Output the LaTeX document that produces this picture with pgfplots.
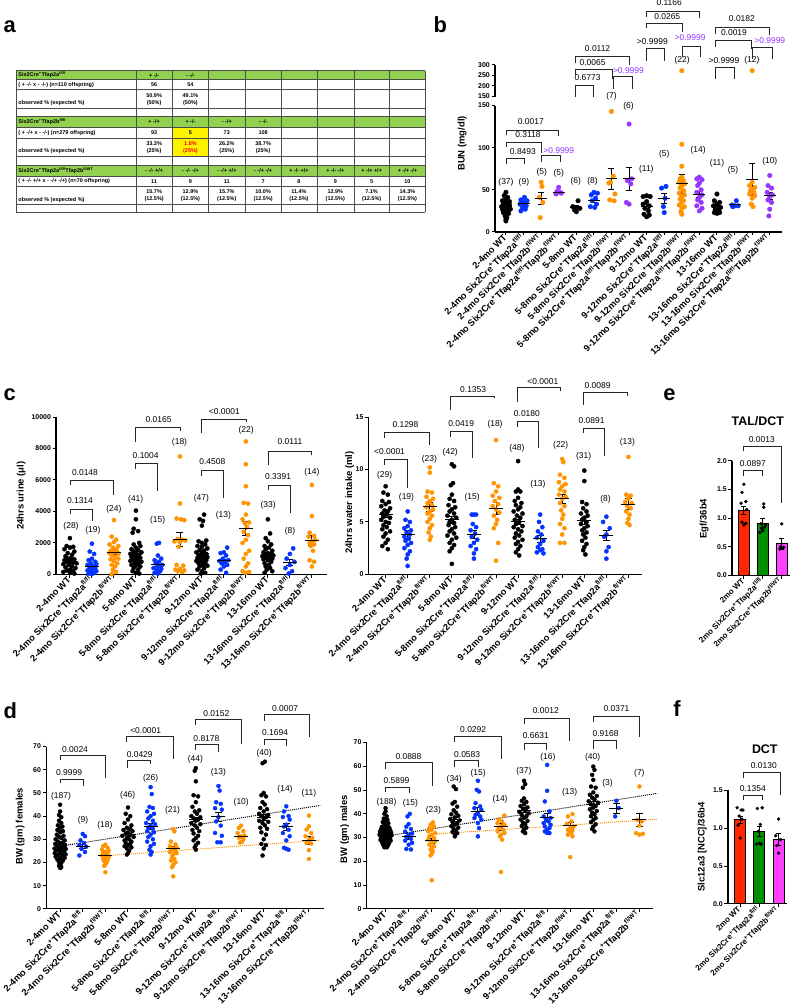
\documentclass[border=0pt]{standalone}
\usepackage{fontspec}
\setmainfont{Liberation Sans}
\usepackage{pgfplots}
\pgfplotsset{compat=1.18}

\definecolor{gpblue}{HTML}{0433FF}
\definecolor{gporange}{HTML}{FF9300}
\definecolor{gppurple}{HTML}{9437FF}
\definecolor{tgreen}{HTML}{92D050}
\definecolor{bred}{HTML}{FF2600}
\definecolor{bgreen}{HTML}{008F00}
\definecolor{bmag}{HTML}{FF40FF}

\newcommand{\Ga}{Six2Cre\textsuperscript{+}Tfap2a\textsuperscript{fl/fl}}
\newcommand{\Gb}{Six2Cre\textsuperscript{+}Tfap2b\textsuperscript{fl/WT}}
\newcommand{\Gab}{Six2Cre\textsuperscript{+}Tfap2a\textsuperscript{fl/fl}Tfap2b\textsuperscript{fl/WT}}
\newcommand{\pv}{\fontsize{8.5}{9}\selectfont}
% bracket: [text colour]{x1}{x2}{ytop}{yleft}{yright}{label x}{label y}{label}
\newcommand{\brk}[9][black]{%
  \draw[line width=0.8pt, black!85] (#2,#5) -- (#2,#4) -- (#3,#4) -- (#3,#6);
  \node[text=#1, font=\pv, inner sep=0pt] at (#7,#8) {#9};}

\pgfplotsset{
  gp/.style={scale only axis, anchor=south west, clip=false,
    axis x line*=bottom, axis y line*=left,
    axis line style={-, line width=1.2pt},
    tick style={black, line width=1pt},
    major tick length=3.5pt, tick align=outside,
    /pgf/number format/assume math mode=true,
    /pgf/number format/1000 sep={},
    scaled y ticks=false,
    yticklabel style={font=\bfseries\fontsize{7}{8}\selectfont, inner sep=1.5pt},
    xticklabel style={font=\bfseries\fontsize{9.3}{10}\selectfont, rotate=45, anchor=east, inner sep=1pt},
  },
  pts/.style={only marks, mark=*, mark size=2.1pt, color=#1},
  msem/.style 2 args={only marks, black, mark=-, mark size=#1, mark options={line width=1pt},
    error bars/.cd, y dir=both, y explicit,
    error bar style={line width=0.8pt, black},
    error mark options={rotate=90, mark size=#2, line width=0.8pt, black}},
}

\begin{document}
\begin{tikzpicture}[x=1pt,y=-1pt]
\path (0,0) rectangle (794,1007);

% ---------------- panel labels
\begin{scope}[font=\bfseries\fontsize{22}{24}\selectfont]
\node[anchor=base west, inner sep=0pt] at (0,33) {a};
\node[anchor=base west, inner sep=0pt] at (432,33) {b};
\node[anchor=base west, inner sep=0pt] at (0,402) {c};
\node[anchor=base west, inner sep=0pt] at (0,722) {d};
\node[anchor=base west, inner sep=0pt] at (663,402) {e};
\node[anchor=base west, inner sep=0pt] at (673,720) {f};
\end{scope}

% ---------------- a: breeding table
\fill[tgreen] (13,71) rectangle (424,80);
\fill[tgreen] (13,117) rectangle (424,128);
\fill[tgreen] (13,166) rectangle (424,177);
\fill[yellow] (170,128) rectangle (206,157);
\foreach \y in {71,80,90,109,117,128,139,157,166,177,187,205,213}
  \draw[line width=0.4pt, black!70] (13,\y) -- (424,\y);
\foreach \x in {13,133,170,206,243,279,315,352,388,424}
  \draw[line width=0.4pt, black!70] (\x,71) -- (\x,213);
\begin{scope}[font=\bfseries\fontsize{5.5}{6}\selectfont, every node/.style={inner sep=0pt}]
\node[anchor=west] at (15,75.5) {Six2Cre\textsuperscript{+}Tfap2a\textsuperscript{fl/fl}};
\node at (151.5,75.5) {+ -/-}; \node at (188,75.5) {- -/-};
\node[anchor=west] at (15,85) {( + -/- x - -/-) (n=110 offspring)};
\node at (151.5,85) {56}; \node at (188,85) {54};
\node[anchor=west] at (15,104) {observed \% (expected \%)};
\node at (151.5,96) {50.9\%}; \node at (151.5,104) {(50\%)};
\node at (188,96) {49.1\%}; \node at (188,104) {(50\%)};
\node[anchor=west] at (15,122.5) {Six2Cre\textsuperscript{+}Tfap2b\textsuperscript{fl/fl}};
\node at (151.5,122.5) {+ -/+}; \node at (188,122.5) {+ -/-};
\node at (224.5,122.5) {- -/+}; \node at (261,122.5) {- -/-};
\node[anchor=west] at (15,133.5) {( + -/+ x - -/-) (n=279 offspring)};
\foreach \x/\t in {151.5/93, 188/5, 224.5/73, 261/108} \node at (\x,133.5) {\t};
\node[anchor=west] at (15,152) {observed \% (expected \%)};
\node at (151.5,144) {33.3\%}; \node[text=red] at (188,144) {1.8\%};
\node at (224.5,144) {26.2\%}; \node at (261,144) {38.7\%};
\node at (151.5,152) {(25\%)}; \node[text=red] at (188,152) {(25\%)};
\node at (224.5,152) {(25\%)}; \node at (261,152) {(25\%)};
\node[anchor=west] at (15,171.5) {Six2Cre\textsuperscript{+}Tfap2a\textsuperscript{fl/fl}Tfap2b\textsuperscript{fl/WT}};
\node at (151.5,171.5) {- -/- +/+}; \node at (188,171.5) {- -/- -/+};
\node at (224.5,171.5) {- -/+ +/+}; \node at (261,171.5) {- -/+ -/+};
\node at (297,171.5) {+ -/- +/+}; \node at (333.5,171.5) {+ -/- -/+};
\node at (370,171.5) {+ -/+ +/+}; \node at (406,171.5) {+ -/+ -/+};
\node[anchor=west] at (15,182) {( + -/- +/+ x - -/+ -/+) (n=70 offspring)};
\foreach \x/\t in {151.5/11, 188/9, 224.5/11, 261/7, 297/8, 333.5/9, 370/5, 406/10}
  \node at (\x,182) {\t};
\node[anchor=west] at (15,201) {observed \% (expected \%)};
\foreach \x/\t in {151.5/15.7, 188/12.9, 224.5/15.7, 261/10.0, 297/11.4, 333.5/12.9, 370/7.1, 406/14.3}
  {\node at (\x,192) {\t\%}; \node at (\x,200) {(12.5\%)};}
\end{scope}

% ---------------- b: BUN (broken axis)
\begin{axis}[gp, at={(494pt,-233pt)}, width=288pt, height=127pt,
  xmin=0.38, xmax=16.68, ymin=0, ymax=150, ytick={0,50,100,150},
  xtick={1,...,16},
  xticklabels={2-4mo WT, 2-4mo \Ga, 2-4mo \Gb, 2-4mo \Gab,
    5-8mo WT, 5-8mo \Ga, 5-8mo \Gb, 5-8mo \Gab,
    9-12mo WT, 9-12mo \Ga, 9-12mo \Gb, 9-12mo \Gab,
    13-16mo WT, 13-16mo \Ga, 13-16mo \Gb, 13-16mo \Gab}]
\addplot[pts=black, mark size=2.3pt] coordinates {
 (1,47)(0.9,43)(1.1,41)(1,39)(0.8,37)(1.2,36)(0.95,35)(1.1,34)(0.85,33)(1.2,32)(1,31)(0.75,30)(1.15,30)(0.9,29)(1.05,28)(0.8,27)(1.25,27)(1,26)(0.9,25)(1.1,24)(0.85,23)(1.15,22)(1,21)(0.95,19)(1.05,17)(1,15)(1,13)
 (5.1,37)(4.8,30)(5,29)(5.2,28)(4.9,26)(5,24)
 (9,43)(8.8,42)(9.2,42)(9,36)(8.8,33)(9.15,31)(8.9,28)(9.1,25)(8.85,21)(9.15,20)(9,18)
 (13,45)(12.85,37)(13.15,35)(13,33)(12.8,31)(13.2,29)(12.9,27)(13.1,25)(12.85,23)(13.15,23)(13,22)};
\addplot[pts=gpblue, mark size=2.3pt] coordinates {
 (2.05,41)(1.85,38)(2.2,37)(2,35)(1.8,33)(2.15,31)(1.95,29)(2.1,27)(1.85,25)
 (6,47)(6.2,46)(5.85,44)(6.1,40)(5.9,37)(6.15,33)(5.8,30)(6.05,29)
 (10.1,54)(9.85,52)(10.05,40)(9.95,30)(10,23)
 (14.1,37)(13.85,32)(14.2,31)(14,31)(13.9,30)};
\addplot[pts=gporange, mark size=2.3pt] coordinates {
 (3,59)(3.05,54)(2.9,41)(3.1,35)(2.95,17)
 (7,143)(7.1,66)(6.95,59)(6.85,58)(7.2,45)(6.9,38)(7.15,37)
 (11,104)(11,78)(11,65)(10.9,63)(11.1,61)(10.85,59)(11.15,57)(11,55)(10.9,52)(11.1,49)(10.85,46)(11.15,44)(11,42)(10.9,39)(11.1,37)(11,35)(10.85,32)(11.15,30)(11,28)(10.95,24)(11,21)
 (15,59)(14.85,55)(15.15,53)(15,50)(14.9,49)(15.1,47)(14.85,45)(15.15,43)(15,40)(14.95,33)(15.05,30)};
\addplot[pts=gppurple, mark size=2.3pt] coordinates {
 (4,53)(3.9,48)(4.1,47)(4.15,46)(3.85,45)
 (8,128)(8.15,63)(7.9,61)(8.1,57)(7.85,35)(8,33)
 (12,65)(11.85,63)(12.15,62)(12,58)(11.9,55)(12.1,50)(11.85,47)(12.15,44)(12,41)(11.9,38)(12.1,35)(11.85,31)(12.15,28)(12,25)
 (16,67)(15.9,55)(16.1,52)(15.85,47)(16.15,44)(16,42)(15.9,38)(16.1,35)(16,27)(15.95,19)};
\addplot[msem={6pt}{3pt}] coordinates {
 (1,30)+-(0,1.3) (2,34)+-(0,2) (3,40)+-(0,7) (4,47)+-(0,1.5)
 (5,29)+-(0,2) (6,37)+-(0,2) (7,63)+-(0,12) (8,63)+-(0,14)
 (9,30)+-(0,2.5) (10,40)+-(0,6) (11,57)+-(0,11) (12,45)+-(0,3.5)
 (13,30)+-(0,2) (14,32)+-(0,1.2) (15,62)+-(0,19) (16,43)+-(0,4.5)};
\end{axis}
\begin{axis}[gp, at={(494pt,-97pt)}, width=288pt, height=32pt,
  xmin=0.38, xmax=16.68, ymin=150, ymax=300, ytick={150,200,250,300},
  axis x line=none, xtick=\empty]
\addplot[pts=gporange, mark size=2.3pt] coordinates {(11,272)(15,272)};
\end{axis}
\node[rotate=90, font=\bfseries\fontsize{9.5}{10}\selectfont] at (461,144) {BUN (mg/dl)};
\begin{scope}[font=\pv]
\foreach \x/\y/\t in {505/183/(37), 523/183/(9), 541/173/(5), 558/174/(5), 575/182/(6), 592/182/(8),
  611/97/(7), 628/107/(6), 646/170/(11), 664/155/(5), 682/61/(22), 698/151/(14),
  717/164/(11), 733/171/(5), 752/61/(12), 770/162/(10)}
  \node at (\x,\y) {\t};
\end{scope}
\brk{505}{523}{159}{165}{165}{522}{152}{0.8493}
\brk{505}{541}{143}{148}{154}{527}{135}{0.3118}
\brk{505}{558}{131}{136}{137}{530}{122}{0.0017}
\brk[gppurple]{541}{560}{156}{163}{163}{558}{151}{>0.9999}
\brk{575}{593}{86}{97}{97}{587}{78}{0.6773}
\brk{575}{612}{70}{75}{79}{592}{63}{0.0065}
\brk{575}{629}{57}{63}{65}{597}{49}{0.0112}
\brk[gppurple]{613}{632}{77}{89}{89}{628}{71}{>0.9999}
\brk{646}{664}{49}{61}{61}{652}{42}{>0.9999}
\brk{646}{682}{23}{28}{32}{667}{17}{0.0265}
\brk{646}{699}{11}{17}{18}{669}{3}{0.1166}
\brk[gppurple]{682}{700}{47}{57}{57}{690}{38}{>0.9999}
\brk{715}{734}{68}{79}{79}{724}{61}{>0.9999}
\brk{715}{752}{41}{47}{49}{734}{33}{0.0019}
\brk{715}{770}{28}{34}{35}{742}{19}{0.0182}
\brk[gppurple]{753}{773}{48}{59}{59}{770}{41}{>0.9999}

% ---------------- c left: urine
\begin{axis}[gp, at={(53pt,-577pt)}, width=272pt, height=158pt,
  xmin=0.37, xmax=12.68, ymin=0, ymax=10000, ytick={0,2000,...,10000},
  xtick={1,...,12},
  xticklabels={2-4mo WT, 2-4mo \Ga, 2-4mo \Gb, 5-8mo WT, 5-8mo \Ga, 5-8mo \Gb,
    9-12mo WT, 9-12mo \Ga, 9-12mo \Gb, 13-16mo WT, 13-16mo \Ga, 13-16mo \Gb}]
\addplot[pts=black] coordinates {
 (1,2300)(0.85,1800)(1.15,1750)(1,1700)(0.75,1600)(1.2,1450)(0.9,1350)(1.1,1250)(0.8,1150)(1.05,1050)(0.9,1000)(1.2,950)(0.75,900)(1,850)(0.85,800)(1.15,750)(1.3,700)(0.7,650)(0.95,600)(1.1,500)(0.8,450)(1.25,400)(1,300)(0.85,250)(1.15,200)(0.7,150)(1,100)(1.2,50)
 (4,4050)(4,3500)(3.9,2900)(4.1,2750)(3.85,2650)(4.15,2000)(3.9,1900)(4.2,1800)(4,1700)(3.8,1600)(4.1,1550)(3.9,1450)(4.25,1400)(4,1350)(3.75,1300)(4.15,1250)(3.9,1200)(4.05,1150)(3.8,1100)(4.2,1050)(4,1000)(3.85,950)(4.1,900)(3.75,850)(4.25,800)(3.95,750)(4.1,700)(3.8,600)(4,550)(4.2,500)(3.9,400)(4.1,300)(3.85,200)(4,100)(4.15,50)
 (7.1,3800)(6.9,3500)(7.05,3400)(7,3100)(7.2,2150)(6.85,2100)(7,2000)(7.15,1900)(6.8,1800)(7,1750)(7.25,1650)(6.9,1550)(7.1,1500)(6.75,1400)(7,1350)(7.2,1300)(6.85,1250)(7.05,1200)(6.95,1150)(7.25,1100)(6.8,1050)(7.1,1000)(6.9,950)(7.2,900)(6.75,850)(7,800)(7.15,750)(6.85,700)(7.05,600)(7.25,550)(6.9,500)(7.1,400)(6.8,300)(7,200)(7.15,100)(6.95,50)
 (10,3500)(10.1,2600)(9.9,2300)(10,2100)(10.15,1900)(9.85,1800)(10.05,1700)(9.9,1600)(10.2,1500)(9.8,1400)(10,1350)(10.15,1300)(9.9,1250)(10.25,1200)(9.75,1150)(10.05,1100)(9.9,1050)(10.2,1000)(9.8,950)(10,900)(10.15,800)(9.85,700)(10.05,600)(9.9,500)(10.1,400)(9.95,300)(10.2,200)(9.85,100)};
\addplot[pts=gpblue] coordinates {
 (2,1950)(1.9,1450)(2.1,1300)(2,1000)(1.85,900)(2.15,800)(1.95,700)(2.2,650)(1.8,600)(2.05,500)(1.9,450)(2.15,400)(2,300)(1.8,250)(2.2,200)(1.95,150)(2.1,100)(1.85,50)(2,20)
 (5.05,2000)(4.95,1950)(5,1200)(5.15,1000)(4.85,900)(5.05,800)(4.9,700)(5.2,600)(5,500)(4.8,400)(5.15,350)(4.95,300)(5.1,200)(4.85,100)(5,50)
 (8.15,1700)(8,1400)(7.85,1350)(8.1,1200)(7.95,1000)(8.2,900)(7.8,850)(8.05,800)(7.9,700)(8.15,600)(8,500)(7.85,300)(8.1,100)
 (11.15,1650)(11,1300)(10.85,1000)(11.2,800)(11,600)(10.8,400)(11.1,200)(10.95,50)};
\addplot[pts=gporange] coordinates {
 (3,3450)(2.9,2400)(3.1,2200)(3,2050)(2.8,1900)(3.2,1800)(2.95,1700)(3.1,1600)(2.85,1500)(3.15,1450)(3,1400)(2.8,1350)(3.2,1300)(2.9,1200)(3.05,1100)(3.2,1000)(2.85,950)(3,850)(3.15,700)(2.9,600)(3.05,500)(2.95,300)(3.1,150)(2.9,20)
 (6,7500)(6,4500)(5.85,3550)(6.05,3500)(6.2,3450)(5.9,2250)(6.1,2200)(6.25,2150)(5.75,2100)(6,2050)(5.95,1750)(5.85,600)(6.15,550)(6,350)(5.9,200)(6.1,150)(5.8,300)(6.2,250)
 (9,8450)(9,7000)(9,5600)(8.9,4550)(9.1,4500)(9,3800)(8.85,3500)(9.15,3300)(8.95,3250)(9.05,3000)(8.9,2700)(9.1,2500)(9,2200)(8.85,2000)(9.15,1500)(9,1300)(8.9,1000)(9.1,700)(9,500)(8.85,200)(9.15,150)(9,100)
 (12,5680)(12,3700)(11.9,2650)(12.1,2450)(11.85,2400)(12.15,2200)(12,2100)(11.9,2000)(12.1,1900)(11.95,1800)(12.05,1500)(11.9,900)(12.1,800)(12,500)};
\addplot[msem={7pt}{3.5pt}] coordinates {
 (1,842)+-(0,120) (2,526)+-(0,120) (3,1410)+-(0,170) (4,1350)+-(0,150)
 (5,630)+-(0,150) (6,2230)+-(0,430) (7,1330)+-(0,140) (8,850)+-(0,130)
 (9,2930)+-(0,450) (10,1270)+-(0,150) (11,780)+-(0,190) (12,2150)+-(0,330)};
\end{axis}
\node[rotate=90, font=\bfseries\fontsize{9.5}{10}\selectfont] at (18,498) {24hrs urine (μl)};
\begin{scope}[font=\pv]
\foreach \x/\y/\t in {68/529/(28), 90/533/(19), 111/512/(24), 133/502/(41), 155/523/(15), 177/444/(18),
  199/501/(47), 221/518/(13), 244/432/(22), 266/508/(33), 288/534/(8), 310/474/(14)}
  \node at (\x,\y) {\t};
\end{scope}
\brk{67}{89}{512}{516}{523}{77}{503}{0.1314}
\brk{67}{111}{483}{487}{497}{82}{475}{0.0148}
\brk{133}{155}{466}{471}{493}{143}{458}{0.1004}
\brk{133}{178}{429}{444}{433}{156}{422}{0.0165}
\brk{199}{221}{473}{478}{500}{210}{464}{0.4508}
\brk{199}{244}{421}{435}{424}{222}{413}{<0.0001}
\brk{266}{288}{488}{492}{515}{276}{479}{0.3391}
\brk{266}{310}{453}{467}{457}{288}{444}{0.0111}

% ---------------- c right: water intake
\begin{axis}[gp, at={(367pt,-577pt)}, width=275pt, height=158pt,
  xmin=0.23, xmax=12.63, ymin=0, ymax=15, ytick={0,5,10,15},
  xtick={1,...,12},
  xticklabels={2-4mo WT, 2-4mo \Ga, 2-4mo \Gb, 5-8mo WT, 5-8mo \Ga, 5-8mo \Gb,
    9-12mo WT, 9-12mo \Ga, 9-12mo \Gb, 13-16mo WT, 13-16mo \Ga, 13-16mo \Gb}]
\addplot[pts=black] coordinates {
 (1,8.4)(0.9,7.8)(1.1,7.6)(0.85,7.0)(1.15,6.9)(1,6.7)(0.8,6.5)(1.2,6.3)(0.95,6.1)(1.1,6.0)(0.85,5.8)(1.05,5.7)(0.9,5.5)(1.2,5.4)(0.8,5.2)(1,5.0)(1.15,4.9)(0.9,4.7)(1.05,4.5)(0.85,4.3)(1.2,4.1)(1,3.9)(0.9,3.6)(1.1,3.3)(1,3.0)(0.85,2.7)(1.1,2.4)
 (4,10.5)(4.1,10.3)(4.05,8.7)(3.95,8.5)(4,7.6)(3.9,7.2)(4.1,7.0)(3.85,6.6)(4.15,6.4)(4,6.2)(3.9,6.0)(4.1,5.8)(3.8,5.6)(4.2,5.4)(4,5.2)(3.9,5.0)(4.1,4.9)(3.85,4.7)(4.15,4.5)(4,4.3)(3.9,4.1)(4.1,3.9)(3.8,3.7)(4.2,3.5)(4,3.3)(3.9,3.0)(4.1,2.8)(4,2.5)(3.9,2.2)(4,1.0)
 (7,10.8)(7,8.1)(6.9,7.9)(7.1,7.9)(7,7.3)(6.85,7.0)(7.15,6.8)(6.9,6.6)(7.1,6.4)(7,6.2)(6.8,6.0)(7.2,5.8)(6.95,5.6)(7.1,5.4)(6.85,5.2)(7.05,5.0)(6.9,4.8)(7.2,4.6)(6.8,4.5)(7,4.3)(7.15,4.1)(6.9,3.9)(7.05,3.7)(6.85,3.5)(7.2,3.3)(7,3.1)(6.9,2.9)(7.1,2.7)(7,2.4)(6.9,2.1)(7.05,1.8)
 (10,9.9)(10,8.9)(9.9,6.9)(10.1,6.7)(9.95,6.3)(10.1,6.0)(9.85,5.8)(10.15,5.6)(10,5.4)(9.9,5.2)(10.1,5.0)(9.85,4.8)(10.15,4.6)(10,4.4)(9.9,4.2)(10.1,4.0)(9.95,3.8)(10.05,3.5)(9.9,3.2)(10.1,2.9)(10,2.6)(9.95,2.3)(10.05,1.9)};
\addplot[pts=gpblue] coordinates {
 (2,6.0)(1.9,5.2)(2.1,5.0)(2,4.6)(1.85,4.4)(2.15,4.2)(1.95,4.0)(2.1,3.8)(1.85,3.6)(2.05,3.4)(1.9,3.2)(2.15,3.0)(2,2.8)(1.85,2.5)(2.1,2.2)(2,1.9)(1.95,1.5)(2,0.8)
 (5,5.7)(4.9,5.7)(5.1,5.7)(4.95,4.8)(5.1,4.5)(4.85,4.2)(5.05,3.9)(4.9,3.6)(5.15,3.3)(5,3.0)(4.85,2.7)(5.1,2.4)(5,2.0)(5,1.5)
 (8,5.7)(7.95,5.0)(8.1,4.5)(7.9,4.1)(8.05,3.8)(7.85,3.5)(8.15,3.2)(8,2.9)(7.9,2.6)(8.1,2.4)(8,2.3)(7.85,2.1)(8.15,2.0)
 (11,5.5)(10.85,5.0)(11.15,4.4)(11,3.8)(10.9,3.6)(11.1,2.6)(11,2.2)(11,1.5)};
\addplot[pts=gporange] coordinates {
 (3,10.2)(3,9.7)(2.9,7.9)(3.1,7.8)(2.85,7.4)(3.15,7.2)(3,7.0)(2.9,6.8)(3.1,6.6)(2.85,6.4)(3.15,6.2)(3,6.0)(2.9,5.8)(3.1,5.6)(3,5.3)(2.9,5.0)(3.1,4.7)(3,4.4)(2.95,4.0)(3.05,3.6)(3,3.3)
 (6,12.8)(5.9,8.7)(6.1,8.4)(6,7.9)(5.85,7.5)(6.15,7.3)(5.95,7.0)(6.1,6.7)(5.85,6.5)(6,6.2)(6.15,5.9)(5.9,5.6)(6.05,5.2)(6,4.8)(5.9,4.4)(6.1,3.0)(6,1.3)
 (9,11.0)(9.05,10.7)(8.9,9.5)(9.1,9.2)(8.85,8.8)(9.15,8.6)(9,8.4)(8.9,8.1)(9.1,7.9)(8.85,7.6)(9.15,7.4)(9,7.2)(8.9,6.8)(9.1,6.5)(8.95,6.1)(9.05,5.7)(9,5.3)(8.9,4.8)(9.1,4.4)(9,3.8)(8.9,3.0)(9.1,3.0)
 (12,11.2)(11.9,7.6)(12.1,7.5)(12,7.2)(11.85,6.9)(12.15,6.8)(11.95,6.5)(12.1,6.3)(11.9,6.0)(12.05,5.7)(12,5.3)(11.95,4.9)(12.05,4.7)};
\addplot[msem={7pt}{3.5pt}] coordinates {
 (1,5.7)+-(0,0.3) (2,3.8)+-(0,0.35) (3,6.45)+-(0,0.4) (4,5.2)+-(0,0.3)
 (5,3.8)+-(0,0.35) (6,6.3)+-(0,0.6) (7,5.0)+-(0,0.25) (8,3.4)+-(0,0.35)
 (9,7.2)+-(0,0.45) (10,5.1)+-(0,0.3) (11,3.7)+-(0,0.45) (12,6.7)+-(0,0.5)};
\end{axis}
\node[rotate=90, font=\bfseries\fontsize{9.5}{10}\selectfont] at (348,505) {24hrs water intake (ml)};
\begin{scope}[font=\pv]
\foreach \x/\y/\t in {383/477/(29), 405/500/(19), 428/461/(23), 449/454/(42), 471/500/(15), 494/426/(18),
  516/450/(48), 537/487/(13), 560/447/(22), 583/458/(31), 605/502/(8), 627/444/(13)}
  \node at (\x,\y) {\t};
\end{scope}
\brk{383}{406}{462}{467}{490}{388}{454}{<0.0001}
\brk{383}{428}{434}{440}{447}{404}{427}{0.1298}
\brk{449}{471}{433}{439}{460}{460}{426}{0.0419}
\brk{449}{493}{398}{412}{400}{472}{391}{0.1353}
\brk{516}{538}{423}{429}{450}{526}{415}{0.0180}
\brk{516}{560}{389}{404}{393}{542}{383}{<0.0001}
\brk{583}{604}{430}{435}{458}{591}{423}{0.0891}
\brk{583}{627}{394}{407}{398}{597}{387}{0.0089}

% ---------------- e: Egf bars
\begin{axis}[gp, at={(732pt,-578pt)}, width=58pt, height=115pt,
  xmin=0.37, xmax=3.42, ymin=0, ymax=2, ytick={0,0.5,...,2},
  yticklabel style={/pgf/number format/.cd, fixed, fixed zerofill, precision=1},
  xtick={1,2,3}, xticklabel style={font=\bfseries\fontsize{8}{9}\selectfont},
  xticklabels={2mo WT, 2mo \Ga, 2mo \Gb}]
\addplot[ybar, bar width=11pt, bar shift=0pt, fill=bred, draw=black, line width=0.9pt] coordinates {(1,1.14)};
\addplot[ybar, bar width=11pt, bar shift=0pt, fill=bgreen, draw=black, line width=0.9pt] coordinates {(2,0.91)};
\addplot[ybar, bar width=11pt, bar shift=0pt, fill=bmag, draw=black, line width=0.9pt] coordinates {(3,0.55)};
\addplot[msem={0pt}{2.5pt}] coordinates {(1,1.14)+-(0,0.07) (2,0.91)+-(0,0.08) (3,0.55)+-(0,0.09)};
\addplot[pts=black, mark size=1.5pt] coordinates {
 (1,1.59)(0.9,1.45)(1.1,1.29)(0.85,1.26)(1.15,1.15)(0.9,0.93)(1.1,0.91)(1,0.88)
 (2.05,1.25)(2.05,1.19)(1.9,0.9)(2.1,0.84)(2,0.78)(1.85,0.75)(2.15,0.88)(1.95,0.82)
 (3,0.9)(3.1,0.49)(2.9,0.46)(3,0.48)(2.95,0.5)};
\end{axis}
\node[font=\bfseries\fontsize{12.5}{13}\selectfont] at (758,423) {TAL/DCT};
\node[rotate=90, font=\bfseries\fontsize{9.5}{10}\selectfont] at (704,521) {Egf/36b4};
\brk{744}{763}{473}{478}{478}{753}{466}{0.0897}
\brk{744}{782}{448}{453}{505}{762}{442}{0.0013}

% ---------------- d left: BW females
\begin{axis}[gp, at={(43pt,-913pt)}, width=279pt, height=163pt,
  xmin=0.38, xmax=12.66, ymin=0, ymax=70, ytick={0,10,...,70},
  xtick={1,...,12},
  xticklabels={2-4mo WT, 2-4mo \Ga, 2-4mo \Gb, 5-8mo WT, 5-8mo \Ga, 5-8mo \Gb,
    9-12mo WT, 9-12mo \Ga, 9-12mo \Gb, 13-16mo WT, 13-16mo \Ga, 13-16mo \Gb}]
\addplot[pts=black, mark size=2pt] coordinates {
 (1,44.9)(1,42)(0.95,40.5)(1.05,39.5)(0.95,38)(1.05,37)(0.9,36)(1.1,35.5)(1,35)(0.88,34)(1.12,33.5)(1,33)(0.85,32)(1.15,31.5)(0.95,31)(1.05,30.5)(0.8,30)(1.2,29.5)(0.9,29)(1.1,28.5)(1,28.3)(0.78,28)(1.22,27.5)(0.88,27)(1.12,26.8)(1,26.5)(0.75,26)(1.25,25.8)(0.92,25.5)(1.08,25.2)(0.82,25)(1.18,24.5)(1,24.2)(0.76,24)(1.24,23.5)(0.9,23.2)(1.1,23)(0.8,22.5)(1.2,22)(1,21.8)(0.88,21.2)(1.12,20.8)(0.95,20.2)(1.05,19.8)(1,19.2)(0.95,18.5)(1.05,18)(1,17.6)
 (4,43.7)(3.9,41)(4.1,40)(4,38.5)(3.85,37)(4.15,36)(3.95,35)(4.1,34.5)(3.8,34)(4.2,33.5)(4,33)(3.9,32.5)(4.1,32)(3.75,31.5)(4.25,31)(3.95,30.5)(4.05,30)(3.85,29.5)(4.15,29)(3.9,28.5)(4.1,28)(4,27.5)(3.85,27)(4.15,26.5)(3.95,26)(4.05,25)(4,24)(3.95,23.4)
 (7,60.7)(6.95,59.5)(7,55)(6.9,49)(7.1,48.5)(7,46)(6.85,44)(7.15,42.5)(6.95,42)(7.05,41)(6.8,40)(7.2,39.5)(6.9,39)(7.1,38.5)(7,38)(6.8,37)(7.2,36.5)(6.95,36)(7.05,35)(6.85,34)(7.15,33.5)(6.9,32.5)(7.1,31.5)(7,30.5)(6.9,29.5)(7.1,28.5)(7,27.5)(6.95,26.5)(7,25.5)
 (10.05,63.5)(9.95,62.8)(10,50)(9.9,49)(10.1,48.5)(9.95,46)(10.05,45)(9.85,43.5)(10.15,43)(10,42)(9.8,41)(10.2,40.5)(9.9,40)(10.1,39.5)(10,39)(9.8,38)(10.2,37.5)(9.95,37)(10.05,36)(9.85,35)(10.15,34.5)(9.9,33)(10.1,32)(10,30)(9.9,28)(10.1,27.5)(10,26)(9.95,23)};
\addplot[pts=gpblue, mark size=2pt] coordinates {
 (2,32.3)(2.1,31.3)(1.9,29.5)(2.05,28.4)(1.85,27.5)(2.15,26.8)(1.95,25.8)(2.1,24.5)(1.85,23)
 (5,52.5)(5.05,49.5)(4.95,44)(5.1,43.5)(4.85,42)(5.15,41)(5,40)(4.9,39)(5.1,38)(4.8,37)(5.2,36.5)(5,36)(4.9,35)(5.1,34.5)(4.85,33.5)(5.15,33)(5,32)(4.9,31)(5.1,30)(4.85,29)(5.15,28)(5,27)(4.95,25.5)(5.05,24.5)(5,23.4)
 (8,53)(8.05,51)(7.9,46)(8.1,45.3)(7.85,43.4)(8.15,42.8)(8,39.5)(7.9,37.7)(8.1,35.9)(7.85,32.7)(8.15,31.5)(7.95,28.7)(8.1,28.7)
 (11,44.2)(10.9,42)(11.1,40)(10.85,39.6)(11.15,38.5)(11,36.3)(10.9,35.5)(11.1,34.1)(10.85,32.7)(11.15,31.3)(11,29.5)(10.9,26.3)(11.1,25.5)(11,25.9)};
\addplot[pts=gporange, mark size=2pt] coordinates {
 (3,27.7)(2.9,27)(3.1,26.3)(2.85,25.5)(3.15,25)(3,24.5)(2.9,24)(3.1,23.5)(2.85,23)(3.15,22.5)(3,22)(2.9,21.5)(3.1,21)(2.95,20.5)(3.05,20)(3,19.2)(2.95,18.5)(3,15.8)
 (6,34.4)(6.05,33.4)(5.9,29)(6.1,27.8)(5.85,27)(6.15,26.5)(6,26)(5.9,25.5)(6.1,25)(5.85,24.5)(6.15,24)(6,23.5)(5.95,22.5)(6.05,21.5)(5.9,20.8)(6.1,20)(6,19)(5.95,18)(6,14)
 (9,35.9)(8.9,34.9)(9.1,33.5)(8.85,32.7)(9.15,31.6)(9,31.3)(8.9,30.7)(9.1,30)(8.95,28.6)(9.05,29)
 (12,40.2)(12,35.6)(11.9,34.2)(12.1,32.7)(11.85,31.3)(12.15,30.6)(12,29.8)(11.9,28.4)(12.1,28.1)(12,25.3)(12,21.5)};
\addplot[msem={7pt}{3.5pt}] coordinates {
 (1,26.5)+-(0,0.3) (2,27)+-(0,1) (3,23)+-(0,0.8) (4,32)+-(0,0.6)
 (5,35.5)+-(0,1.4) (6,26.1)+-(0,1) (7,38.5)+-(0,1) (8,39.7)+-(0,2)
 (9,31)+-(0,0.8) (10,39.5)+-(0,1.3) (11,35.5)+-(0,1.5) (12,29.5)+-(0,1.6)};
\addplot[black, densely dotted, line width=1pt] coordinates {(1,27)(12.5,44.6)};
\addplot[gporange, densely dotted, line width=1pt] coordinates {(2.9,22.8)(12.5,29.6)};
\end{axis}
\node[rotate=90, font=\bfseries\fontsize{9.5}{10}\selectfont] at (17,830) {BW (gm) females};
\begin{scope}[font=\pv]
\foreach \x/\y/\t in {58/800/(187), 80/824/(9), 102/829/(18), 125/799/(46), 148/782/(26), 170/814/(21),
  193/763/(44), 216/776/(13), 239/806/(10), 262/757/(40), 283/793/(14), 307/797/(11)}
  \node at (\x,\y) {\t};
\end{scope}
\brk{57}{80}{783}{787}{790}{66}{776}{0.9999}
\brk{57}{103}{759}{764}{782}{72}{753}{0.0024}
\brk{125}{148}{764}{772}{768}{137}{758}{0.0429}
\brk{124}{171}{740}{745}{763}{143}{734}{<0.0001}
\brk{193}{216}{748}{753}{755}{204}{742}{0.8178}
\brk{193}{239}{723}{728}{747}{214}{717}{0.0152}
\brk{262}{284}{743}{748}{749}{273}{736}{0.1694}
\brk{262}{307}{718}{724}{740}{283}{712}{0.0007}

% ---------------- d right: BW males
\begin{axis}[gp, at={(365pt,-913pt)}, width=288pt, height=167pt,
  xmin=0.18, xmax=12.6, ymin=0, ymax=70, ytick={0,10,...,70},
  xtick={1,...,12},
  xticklabels={2-4mo WT, 2-4mo \Ga, 2-4mo \Gb, 5-8mo WT, 5-8mo \Ga, 5-8mo \Gb,
    9-12mo WT, 9-12mo \Ga, 9-12mo \Gb, 13-16mo WT, 13-16mo \Ga, 13-16mo \Gb}]
\addplot[pts=black, mark size=2pt] coordinates {
 (1,42.4)(1,41)(0.95,40)(1.05,39)(0.92,38)(1.08,37.5)(1,37)(0.88,36.5)(1.12,36)(0.95,35.5)(1.05,35)(0.84,34.5)(1.16,34.2)(1,34)(0.8,33.5)(1.2,33.2)(0.92,33)(1.08,32.8)(0.76,32.5)(1.24,32.2)(1,32)(0.86,31.7)(1.14,31.5)(0.74,31.2)(1.26,31)(0.95,30.8)(1.05,30.5)(0.8,30.2)(1.2,30)(1,29.7)(0.88,29.4)(1.12,29.2)(0.78,29)(1.22,28.7)(0.95,28.4)(1.05,28.1)(0.85,27.8)(1.15,27.5)(1,27.2)(0.9,26.9)(1.1,26.6)(1,26.3)(0.95,25.9)(1.05,25.9)
 (3.95,51.5)(4.05,50.4)(4,45)(3.9,44.3)(4.1,43)(3.95,41.5)(4.05,40.5)(3.85,39.8)(4.15,39.2)(4,38.5)(3.8,37.8)(4.2,37.2)(3.9,36.6)(4.1,36)(4,35.4)(3.85,34.8)(4.15,34.2)(3.95,33.6)(4.05,33)(3.9,32.4)(4.1,31.8)(4,31.2)(4,30.5)
 (7,53.9)(7.05,52.5)(6.95,51)(7,46.5)(6.9,45.5)(7.1,45)(7,44)(6.85,43.3)(7.15,42.7)(6.95,42)(7.05,41.4)(6.8,40.8)(7.2,40.2)(6.9,39.5)(7.1,38.9)(7,38.3)(6.85,37.6)(7.15,37)(6.95,36.3)(7.05,35.6)(6.9,34.9)(7.1,34.2)(7,33.5)(6.95,32.6)(7.05,31.9)
 (10,59.9)(10.05,58.5)(9.95,56.4)(10,54.3)(9.9,51.5)(10.1,51)(10,49)(9.85,48)(10.15,47.5)(9.95,46.8)(10.05,46)(9.8,45.3)(10.2,44.7)(9.9,44)(10.1,43.3)(10,42.6)(9.85,41.9)(10.15,41.2)(9.95,40.5)(10.05,39.8)(9.9,39)(10.1,38.2)(10,37.4)(9.9,36.5)(10.1,35.6)(10,34.6)(9.95,33.6)(10.05,32.6)};
\addplot[pts=gpblue, mark size=2pt] coordinates {
 (2.05,40)(1.95,38.9)(2,35.7)(1.9,34.6)(2.1,33.6)(1.85,32.5)(2.15,31.7)(2,31)(1.9,30.3)(2.1,29.5)(1.85,28.7)(2.15,27.8)(2,27)(1.9,25.2)(2.1,25)
 (5,53.9)(4.95,50.1)(5.05,49.4)(4.9,44.5)(5.1,43.1)(4.85,42.4)(5.15,41.7)(5,40.3)(4.9,39.6)(5.1,38.9)(4.85,38.2)(5.15,37.5)(5,36.1)(5.05,34)(5,30.5)
 (8,60.6)(8,49.7)(7.9,45.2)(8.1,41)(7.85,38.9)(8.15,38.2)(7.95,37.5)(8.05,36.8)(7.85,36.1)(8.15,35.4)(7.9,34.7)(8.1,34)(8,33.3)(7.9,32.6)(8.1,31.9)(8,31.9)
 (11,45.5)(11.1,42.4)(10.95,38.9)};
\addplot[pts=gporange, mark size=2pt] coordinates {
 (3.05,36.4)(2.95,35.4)(3.1,34.7)(2.9,34)(3,33.3)(2.85,32.6)(3.15,31.9)(3,31.2)(2.9,30.5)(3.1,29.8)(2.85,29.1)(3.15,28.4)(3,27.7)(2.9,27)(3.1,26.3)(3,25.6)(2.95,24.9)(3.05,24.2)(3,23.2)(2.95,22.5)(3,12)
 (6.15,39.3)(5.9,37.7)(6.05,36.8)(5.85,36.1)(6.15,35.4)(6,34.7)(5.9,34)(6.1,33.3)(5.85,32.6)(6.15,31.9)(6,31.2)(5.95,30.5)(6.05,29.1)(6,15.5)
 (9.1,39.9)(8.9,38.9)(9.05,36.8)(8.85,35.8)(9.15,34.7)(9,34)(8.9,33.3)(9.1,33)(8.95,32.6)(9.05,31.9)(8.9,31.2)(9.1,30.5)(9,21.8)
 (12,51.5)(11.9,37.5)(12.1,36.8)(12,35)(11.85,31.9)(12.15,31.6)(12,31.2)};
\addplot[msem={7pt}{3.5pt}] coordinates {
 (1,31)+-(0,0.25) (2,30.5)+-(0,1.2) (3,28.7)+-(0,1) (4,37.5)+-(0,0.9)
 (5,41)+-(0,1.8) (6,34.5)+-(0,1.6) (7,41.5)+-(0,1) (8,38.5)+-(0,1.8)
 (9,35)+-(0,1.2) (10,44)+-(0,1.1) (11,42.3)+-(0,2) (12,37.5)+-(0,2.7)};
\addplot[black, densely dotted, line width=1pt] coordinates {(1,30.6)(12.77,48.6)};
\addplot[gporange, densely dotted, line width=1pt] coordinates {(2.98,31.4)(12.77,37.7)};
\end{axis}
\node[rotate=90, font=\bfseries\fontsize{9.5}{10}\selectfont] at (343,833) {BW (gm) males};
\begin{scope}[font=\pv]
\foreach \x/\y/\t in {385/806/(188), 409/807/(15), 432/814/(23), 453/783/(34), 477/777/(15), 499/803/(14),
  523/775/(37), 547/761/(16), 569/796/(13), 592/761/(40), 607/787/(3), 639/777/(7)}
  \node at (\x,\y) {\t};
\end{scope}
\brk{384}{408}{791}{796}{797}{395}{784}{0.5899}
\brk{384}{431}{766}{773}{790}{407}{760}{0.0888}
\brk{453}{477}{764}{771}{771}{466}{758}{0.0583}
\brk{453}{500}{740}{745}{763}{472}{733}{0.0292}
\brk{523}{546}{747}{753}{753}{535}{739}{0.6631}
\brk{523}{569}{722}{727}{744}{545}{714}{0.0012}
\brk{593}{616}{744}{752}{752}{605}{737}{0.9168}
\brk{593}{639}{720}{725}{740}{616}{712}{0.0371}

% ---------------- f: Slc12a3 bars
\begin{axis}[gp, at={(728pt,-908pt)}, width=59pt, height=114pt,
  xmin=0.37, xmax=3.42, ymin=0, ymax=1.5, ytick={0,0.5,...,1.5},
  yticklabel style={/pgf/number format/.cd, fixed, fixed zerofill, precision=1},
  xtick={1,2,3}, xticklabel style={font=\bfseries\fontsize{8}{9}\selectfont},
  xticklabels={2mo WT, 2mo \Ga, 2mo \Gb}]
\addplot[ybar, bar width=11pt, bar shift=0pt, fill=bred, draw=black, line width=0.9pt] coordinates {(1,1.11)};
\addplot[ybar, bar width=11pt, bar shift=0pt, fill=bgreen, draw=black, line width=0.9pt] coordinates {(2,0.96)};
\addplot[ybar, bar width=11pt, bar shift=0pt, fill=bmag, draw=black, line width=0.9pt] coordinates {(3,0.85)};
\addplot[msem={0pt}{2.5pt}] coordinates {(1,1.11)+-(0,0.05) (2,0.96)+-(0,0.07) (3,0.85)+-(0,0.08)};
\addplot[pts=black, mark size=1.5pt] coordinates {
 (0.85,1.27)(1.15,1.24)(1.05,1.24)(0.95,1.16)(1.1,1.12)(0.9,1.04)(1,0.87)
 (2.15,1.27)(1.9,1.26)(2.05,1.05)(1.95,0.96)(2.1,0.79)(1.85,0.79)(2,0.8)
 (3,1.12)(2.85,0.9)(3.1,0.85)(2.9,0.77)(3,0.67)};
\end{axis}
\node[font=\bfseries\fontsize{12.5}{13}\selectfont] at (765,753) {DCT};
\node[rotate=90, font=\bfseries\fontsize{9.5}{10}\selectfont] at (702,851) {Slc12a3 [NCC]/36b4};
\brk{744}{763}{799}{804}{804}{753}{792}{0.1354}
\brk{744}{781}{776}{782}{799}{764}{769}{0.0130}

\end{tikzpicture}
\end{document}
